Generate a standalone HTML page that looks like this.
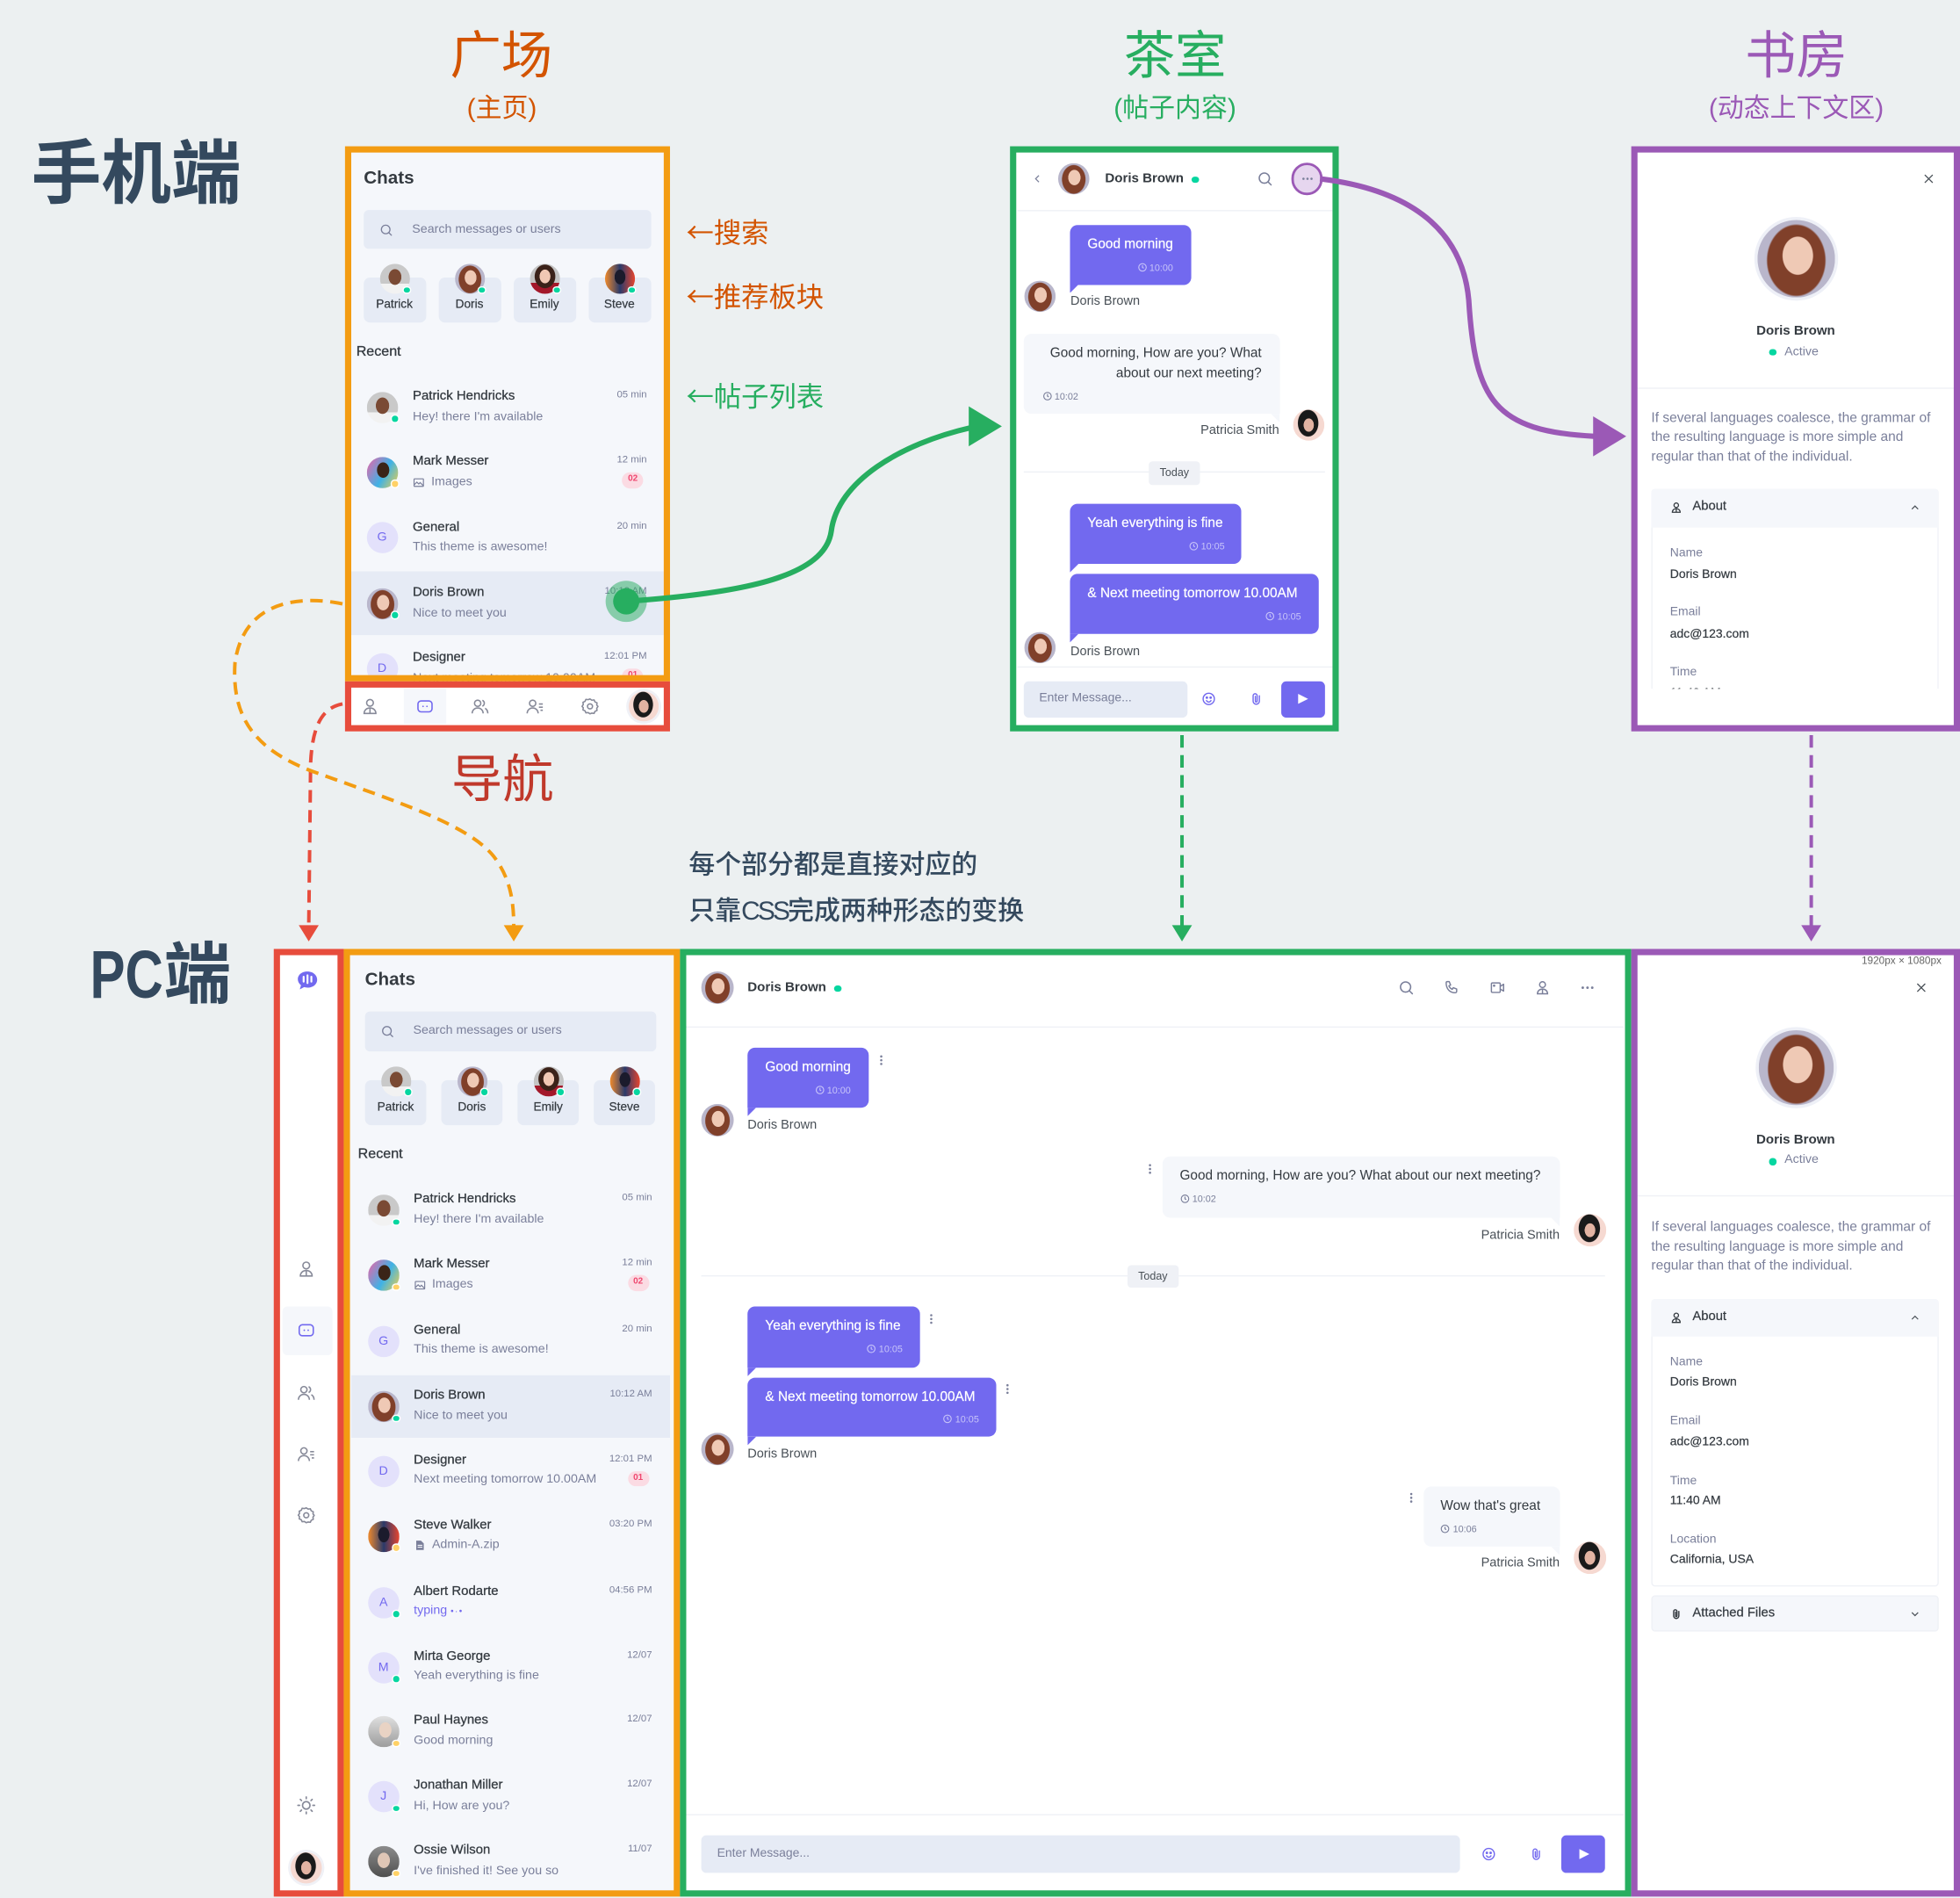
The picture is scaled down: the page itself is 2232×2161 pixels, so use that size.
<!DOCTYPE html>
<html lang="zh"><head><meta charset="utf-8"><title>diagram</title>
<style>
html,body{margin:0;padding:0}
body{width:2232px;height:2160px;overflow:hidden;position:relative;background:#ecf0f1;font-family:"Liberation Sans","Noto Sans CJK SC",sans-serif}
#s{position:absolute;left:0;top:0;width:1568px;height:1518px;transform:scale(1.42347);transform-origin:0 0}
.a{position:absolute}
.t,.tr,.tc{position:absolute;white-space:nowrap;line-height:1}
.t{transform:translateY(-50%)}
.tr{transform:translate(-100%,-50%)}
.tc{transform:translate(-50%,-50%)}
.ic{position:absolute;transform:translate(-50%,-50%);line-height:0}
.ic svg{display:block}
.av{position:absolute;border-radius:50%;transform:translate(-50%,-50%)}
.dt{position:absolute;right:-1px;bottom:0;width:4.5px;height:4.5px;border-radius:50%;border:1.2px solid #fff}
.g{background:#06d6a0}.y{background:#ffd166}
.lt{background:#e3e1fb;color:#7269ef;font-size:10px;display:flex;align-items:center;justify-content:center}
.fr{position:absolute;box-sizing:border-box;border:5.6px solid}
.cjk{font-family:"Noto Sans CJK SC",sans-serif}
.nm{font-size:10.5px;color:#343a40;-webkit-text-stroke:.2px #343a40}
.ms{font-size:10px;color:#7a7f9a}
.tm{font-size:8px;color:#7a7f9a}
.bdg{position:absolute;transform:translate(-50%,-50%);width:17px;height:12.5px;border-radius:7px;background:#fbdbe3;color:#ef476f;font-size:7px;font-weight:bold;text-align:center;line-height:12.5px}
.card{position:absolute;height:36px;width:49.5px;background:#e6ebf5;border-radius:5px}
.cl{font-size:9.6px;color:#343a40;-webkit-text-stroke:.15px #343a40}
.pb{position:absolute;background:#7269ef;border-radius:6px 6px 6px 0}
.gb{position:absolute;background:#f5f7fb;border-radius:6px 6px 0 6px}
.tlp{position:absolute;width:7px;height:7px;background:#7269ef;clip-path:polygon(0 0,100% 0,0 100%)}
.tlg{position:absolute;width:7px;height:7px;background:#f5f7fb;clip-path:polygon(0 0,100% 0,100% 100%)}
.bt{font-size:10.8px;color:#fff;-webkit-text-stroke:.15px #fff}
.btm{font-size:7.6px;color:rgba(255,255,255,.6)}
.gt{font-size:10.8px;color:#343a40}
.gtm{font-size:7.6px;color:#7a7f9a}
.sn{font-size:10.2px;color:#495057}
.ck{width:8px;height:8px;display:inline-block;vertical-align:-1.3px;margin-right:2px}
.hl{position:absolute;height:1px;background:#eff1f6}
.pl1{font-size:10.9px;color:#7a7f9a}
.lb{font-size:9.8px;color:#7a7f9a}
.vl{font-size:9.8px;color:#343a40;-webkit-text-stroke:.15px #343a40}
.hd{font-size:10.6px;font-weight:bold;color:#343a40}
.pd{background:radial-gradient(ellipse 24% 30% at 52% 46%,#efc9b5 0 80%,transparent 84%),radial-gradient(ellipse 46% 56% at 50% 52%,#80402a 0 80%,transparent 84%),#b9b6cb}
.pp{background:radial-gradient(ellipse 26% 32% at 50% 44%,#7a4a34 0 80%,transparent 84%),linear-gradient(#c9c9c9 0 66%,#f2f2f2 66%)}
.pe{background:radial-gradient(ellipse 22% 28% at 50% 42%,#f1c8b4 0 80%,transparent 84%),radial-gradient(ellipse 42% 48% at 50% 42%,#3b2219 0 80%,transparent 84%),linear-gradient(#c4c4c4 0 64%,#a3182a 64%)}
.ps{background:radial-gradient(ellipse 22% 30% at 50% 44%,#1b1b2c 0 80%,transparent 84%),linear-gradient(90deg,#f08a2c,#2a3a6a 50%,#e8452e)}
.pm{background:radial-gradient(ellipse 24% 30% at 52% 42%,#3a2418 0 80%,transparent 84%),linear-gradient(120deg,#f062a6,#3fb2e6 55%,#f2d048)}
.pt{background:radial-gradient(ellipse 20% 26% at 50% 50%,#e2b3a2 0 80%,transparent 84%),radial-gradient(ellipse 40% 52% at 48% 44%,#1a1a1a 0 80%,transparent 84%),#f6d9d1}
.pl{background:radial-gradient(ellipse 24% 30% at 55% 45%,#e9d3c4 0 80%,transparent 84%),linear-gradient(#e0e0e0,#9c9c9c)}
.po{background:radial-gradient(ellipse 24% 30% at 50% 46%,#dfc6b6 0 80%,transparent 84%),linear-gradient(#8c8c8c,#4f4f4f)}
</style></head>
<body>
<div id="s">

<!-- ============ TITLES ============ -->
<div class="t" style="left:25px;top:139px;font-size:56px;font-weight:bold;color:#34495e">手机端</div>
<div class="t" style="left:72px;top:780px;font-size:54px;font-weight:bold;color:#34495e"><span style="display:inline-block;transform:scaleX(.78);transform-origin:0 50%;margin-right:-16px">PC</span>端</div>

<div class="tc" style="left:401px;top:45px;font-size:41px;color:#d35400">广场</div>
<div class="tc" style="left:401.5px;top:86.5px;font-size:21px;color:#d35400">(主页)</div>
<div class="tc" style="left:940px;top:45px;font-size:41px;color:#27ae60">茶室</div>
<div class="tc" style="left:940px;top:86.5px;font-size:21px;color:#27ae60">(帖子内容)</div>
<div class="tc" style="left:1437px;top:45px;font-size:41px;color:#9b59b6">书房</div>
<div class="tc" style="left:1437px;top:86.5px;font-size:21px;color:#9b59b6">(动态上下文区)</div>

<div class="t" style="left:549px;top:186px;font-size:22px;color:#d35400"><span class="cjk">←</span>搜索</div>
<div class="t" style="left:549px;top:237px;font-size:22px;color:#d35400"><span class="cjk">←</span>推荐板块</div>
<div class="t" style="left:549px;top:317px;font-size:22px;color:#27ae60"><span class="cjk">←</span>帖子列表</div>
<div class="tc" style="left:402px;top:623.5px;font-size:41px;color:#c0392b">导航</div>

<div class="t" style="left:551px;top:692px;font-size:21px;font-weight:500;color:#34495e">每个部分都是直接对应的</div>
<div class="t" style="left:551px;top:729px;font-size:21px;font-weight:500;color:#34495e">只靠<span style="letter-spacing:-2px">CSS</span>完成两种形态的变换</div>

<!-- ============ MOBILE LIST ============ -->
<div class="a" style="left:275.5px;top:117px;width:260.5px;height:428px;background:#f5f7fb"></div>
<div class="t" style="left:291px;top:142.5px;font-size:14.5px;font-weight:bold;color:#343a40">Chats</div>
<div class="a" style="left:291px;top:168px;width:229.5px;height:31px;background:#e6ebf5;border-radius:4px"></div>
<div class="ic" style="left:308.5px;top:183.5px;color:#7a7f9a"><svg width="11" height="11" viewBox="0 0 24 24" fill="none" stroke="currentColor" stroke-width="2"><circle cx="11" cy="11" r="7.5"/><path d="M16.5 16.5L21 21" stroke-linecap="round"/></svg></div>
<div class="t" style="left:329.7px;top:183.5px;font-size:10px;color:#7a7f9a">Search messages or users</div>

<div class="card" style="left:291px;top:222px"></div>
<div class="card" style="left:351px;top:222px"></div>
<div class="card" style="left:411px;top:222px"></div>
<div class="card" style="left:471px;top:222px"></div>
<div class="av pp" style="left:315.5px;top:223px;width:24px;height:24px"><i class="dt g"></i></div>
<div class="av pd" style="left:375.5px;top:223px;width:24px;height:24px"><i class="dt g"></i></div>
<div class="av pe" style="left:435.5px;top:223px;width:24px;height:24px"><i class="dt g"></i></div>
<div class="av ps" style="left:495.5px;top:223px;width:24px;height:24px"><i class="dt g"></i></div>
<div class="tc cl" style="left:315.5px;top:244px">Patrick</div>
<div class="tc cl" style="left:375.5px;top:244px">Doris</div>
<div class="tc cl" style="left:435.5px;top:244px">Emily</div>
<div class="tc cl" style="left:495.5px;top:244px">Steve</div>
<div class="t" style="left:285px;top:282px;font-size:11.3px;color:#343a40;-webkit-text-stroke:.2px #343a40">Recent</div>

<div class="a" style="left:281px;top:457px;width:250px;height:51px;background:#e6ebf5"></div>

<div class="av pp" style="left:305.6px;top:325.7px;width:25px;height:25px"><i class="dt g"></i></div>
<div class="t nm" style="left:330.2px;top:317px">Patrick Hendricks</div>
<div class="t ms" style="left:330.2px;top:333.7px">Hey! there I'm available</div>
<div class="tr tm" style="left:517.5px;top:316px">05 min</div>

<div class="av pm" style="left:305.6px;top:377.9px;width:25px;height:25px"><i class="dt y"></i></div>
<div class="t nm" style="left:330.2px;top:369.2px">Mark Messer</div>
<div class="ic" style="left:334.5px;top:386px;color:#7a7f9a"><svg width="9" height="9" viewBox="0 0 24 24" fill="none" stroke="currentColor" stroke-width="2.2"><rect x="2" y="4" width="20" height="16" rx="1"/><path d="M2 17l6-6 4 4 3-3 7 7"/></svg></div>
<div class="t ms" style="left:345px;top:386px">Images</div>
<div class="tr tm" style="left:517.5px;top:368.2px">12 min</div>
<div class="bdg" style="left:506.3px;top:384.4px">02</div>

<div class="av lt" style="left:305.6px;top:430.3px;width:25px;height:25px">G</div>
<div class="t nm" style="left:330.2px;top:421.6px">General</div>
<div class="t ms" style="left:330.2px;top:438.3px">This theme is awesome!</div>
<div class="tr tm" style="left:517.5px;top:420.6px">20 min</div>

<div class="av pd" style="left:305.6px;top:482.7px;width:25px;height:25px"><i class="dt g"></i></div>
<div class="t nm" style="left:330.2px;top:474px">Doris Brown</div>
<div class="t ms" style="left:330.2px;top:490.7px">Nice to meet you</div>
<div class="tr tm" style="left:517.5px;top:473px">10:12 AM</div>

<div class="av lt" style="left:305.6px;top:534.5px;width:25px;height:25px">D</div>
<div class="t nm" style="left:330.2px;top:525.8px">Designer</div>
<div class="t ms" style="left:330.2px;top:542.5px">Next meeting tomorrow 10.00AM</div>
<div class="tr tm" style="left:517.5px;top:524.8px">12:01 PM</div>
<div class="bdg" style="left:506.3px;top:541px">01</div>

<!-- ============ MOBILE NAV ============ -->
<div class="a" style="left:275.5px;top:545px;width:260.5px;height:40px;background:#fff"></div>
<div class="a" style="left:323px;top:550.6px;width:34px;height:28.8px;background:#f5f7fb"></div>
<div class="ic" style="left:296px;top:565px;color:#878a99"><svg width="15" height="15" viewBox="0 0 24 24" fill="none" stroke="currentColor" stroke-width="1.8"><circle cx="12" cy="7.5" r="4.3"/><path d="M4.5 21c0-4.3 3.4-7 7.5-7s7.5 2.7 7.5 7z"/><path d="M12 14.5V21"/></svg></div>
<div class="ic" style="left:340px;top:565px;color:#7269ef"><svg width="15" height="15" viewBox="0 0 24 24" fill="none" stroke="currentColor" stroke-width="1.8"><rect x="3" y="5" width="18" height="14" rx="4"/><circle cx="9.5" cy="12" r="1" fill="currentColor" stroke="none"/><circle cx="14.5" cy="12" r="1" fill="currentColor" stroke="none"/></svg></div>
<div class="ic" style="left:384px;top:565px;color:#878a99"><svg width="15" height="15" viewBox="0 0 24 24" fill="none" stroke="currentColor" stroke-width="1.8"><circle cx="9" cy="8" r="4"/><path d="M2 21c0-4 3.1-7 7-7s7 3 7 7"/><path d="M15 4.3a4 4 0 0 1 0 7.4"/><path d="M18.5 14.5c2 1.2 3.5 3.5 3.5 6.5"/></svg></div>
<div class="ic" style="left:428px;top:565px;color:#878a99"><svg width="15" height="15" viewBox="0 0 24 24" fill="none" stroke="currentColor" stroke-width="1.8"><circle cx="9" cy="8" r="4"/><path d="M2 21c0-4 3.1-7 7-7s7 3 7 7"/><path d="M17 9h5M17 13h5M19 17h3"/></svg></div>
<div class="ic" style="left:472px;top:565px;color:#878a99"><svg width="15" height="15" viewBox="0 0 24 24" fill="none" stroke="currentColor" stroke-width="1.8" stroke-linejoin="round"><path d="M12 2.5l2.4 1.6 2.8-.4 1.2 2.6 2.6 1.2-.4 2.8L22.2 12l-1.6 2.4.4 2.8-2.6 1.2-1.2 2.6-2.8-.4L12 21.5l-2.4-1.6-2.8.4-1.2-2.6-2.6-1.2.4-2.8L1.8 12l1.6-2.4-.4-2.8 2.6-1.2 1.2-2.6 2.8.4z"/><circle cx="12" cy="12" r="3.2"/></svg></div>
<div class="av pt" style="left:515px;top:565px;width:24px;height:24px;box-shadow:0 0 0 2px #f0f1f6"></div>

<!-- ============ MOBILE CHAT ============ -->
<div class="a" style="left:808px;top:117px;width:263.3px;height:468px;background:#fff"></div>
<div class="ic" style="left:830px;top:143px;color:#7a7f9a"><svg width="9" height="9" viewBox="0 0 24 24" fill="none" stroke="currentColor" stroke-width="2.4"><path d="M15 5l-7 7 7 7"/></svg></div>
<div class="av pd" style="left:859.4px;top:143px;width:25px;height:25px"></div>
<div class="t hd" style="left:884px;top:143px">Doris Brown</div>
<div class="av g" style="left:956px;top:143.5px;width:5.5px;height:5.5px"></div>
<div class="ic" style="left:1012.3px;top:143px;color:#7a7f9a"><svg width="13" height="13" viewBox="0 0 24 24" fill="none" stroke="currentColor" stroke-width="2"><circle cx="11" cy="11" r="7.5"/><path d="M16.5 16.5L21 21" stroke-linecap="round"/></svg></div>
<div class="av" style="left:1045.6px;top:143px;width:25.8px;height:25.8px;box-sizing:border-box;border:2.6px solid #9b59b6;background:#e6d6ef"></div>
<div class="ic" style="left:1045.6px;top:143px;color:#7a7f9a"><svg width="11" height="11" viewBox="0 0 24 24" fill="currentColor"><circle cx="5" cy="12" r="2"/><circle cx="12" cy="12" r="2"/><circle cx="19" cy="12" r="2"/></svg></div>
<div class="hl" style="left:813.6px;top:168px;width:252px"></div>

<div class="pb" style="left:856px;top:180px;width:96.6px;height:47.6px"></div>
<div class="tlp" style="left:856px;top:227.4px"></div>
<div class="t bt" style="left:870px;top:196px">Good morning</div>
<div class="tr btm" style="left:938.5px;top:214px"><svg class="ck" viewBox="0 0 24 24" fill="none" stroke="currentColor" stroke-width="2.4"><circle cx="12" cy="12" r="9"/><path d="M12 7v5l3 2"/></svg>10:00</div>
<div class="av pd" style="left:831.8px;top:237.3px;width:25px;height:25px"></div>
<div class="t sn" style="left:856.4px;top:242.4px">Doris Brown</div>

<div class="gb" style="left:819px;top:267px;width:204.6px;height:64px"></div>
<div class="tlg" style="left:1016.6px;top:330.8px"></div>
<div class="tr gt" style="left:1009.3px;top:283px">Good morning, How are you? What</div>
<div class="tr gt" style="left:1009.3px;top:299px">about our next meeting?</div>
<div class="t gtm" style="left:833.6px;top:316.5px"><svg class="ck" viewBox="0 0 24 24" fill="none" stroke="currentColor" stroke-width="2.4"><circle cx="12" cy="12" r="9"/><path d="M12 7v5l3 2"/></svg>10:02</div>
<div class="av pt" style="left:1047.2px;top:340.3px;width:25px;height:25px"></div>
<div class="tr sn" style="left:1023.3px;top:345.4px">Patricia Smith</div>

<div class="hl" style="left:819px;top:377px;width:241px"></div>
<div class="a" style="left:919px;top:369px;width:41px;height:18.5px;background:#eff1f6;border-radius:3px"></div>
<div class="tc" style="left:939.5px;top:378.3px;font-size:8.8px;color:#495057">Today</div>

<div class="pb" style="left:856px;top:403px;width:137px;height:48px"></div>
<div class="tlp" style="left:856px;top:450.8px"></div>
<div class="t bt" style="left:870px;top:419.2px">Yeah everything is fine</div>
<div class="tr btm" style="left:979.8px;top:436.8px"><svg class="ck" viewBox="0 0 24 24" fill="none" stroke="currentColor" stroke-width="2.4"><circle cx="12" cy="12" r="9"/><path d="M12 7v5l3 2"/></svg>10:05</div>
<div class="pb" style="left:856px;top:459px;width:199px;height:48px"></div>
<div class="tlp" style="left:856px;top:506.8px"></div>
<div class="t bt" style="left:870px;top:475px">&amp; Next meeting tomorrow 10.00AM</div>
<div class="tr btm" style="left:1040.9px;top:493px"><svg class="ck" viewBox="0 0 24 24" fill="none" stroke="currentColor" stroke-width="2.4"><circle cx="12" cy="12" r="9"/><path d="M12 7v5l3 2"/></svg>10:05</div>
<div class="av pd" style="left:831.8px;top:517.6px;width:25px;height:25px"></div>
<div class="t sn" style="left:856.4px;top:522.2px">Doris Brown</div>

<div class="hl" style="left:813.6px;top:532.8px;width:252px"></div>
<div class="a" style="left:819px;top:544.5px;width:130.6px;height:29.5px;background:#e6ebf5;border-radius:4px"></div>
<div class="t" style="left:831.3px;top:559.3px;font-size:9.8px;color:#7a7f9a">Enter Message...</div>
<div class="ic" style="left:967.4px;top:559.3px;color:#7269ef"><svg width="12" height="12" viewBox="0 0 24 24" fill="none" stroke="currentColor" stroke-width="2"><circle cx="12" cy="12" r="9"/><path d="M8 14c1 2 2.5 3 4 3s3-1 4-3"/><circle cx="9" cy="10" r="1" fill="currentColor"/><circle cx="15" cy="10" r="1" fill="currentColor"/></svg></div>
<div class="ic" style="left:1004.6px;top:559.3px;color:#7269ef"><svg width="12" height="12" viewBox="0 0 24 24" fill="none" stroke="currentColor" stroke-width="2" stroke-linecap="round"><path d="M17 7v8.5a5 5 0 0 1-10 0V7a3.2 3.2 0 0 1 6.4 0v8.5a1.4 1.4 0 0 1-2.8 0V8"/></svg></div>
<div class="a" style="left:1025px;top:544.5px;width:34.6px;height:29.5px;background:#7269ef;border-radius:4px"></div>
<div class="ic" style="left:1042.3px;top:559.3px"><svg width="12" height="12" viewBox="0 0 24 24"><path d="M5 4l16 8-16 8z" fill="#fff"/></svg></div>

<!-- ============ MOBILE PROFILE ============ -->
<div class="a" style="left:1304.6px;top:117px;width:263.4px;height:468px;background:#fff"></div>
<div class="ic" style="left:1542.5px;top:143px;color:#495057"><svg width="10" height="10" viewBox="0 0 24 24" fill="none" stroke="currentColor" stroke-width="2.2" stroke-linecap="round"><path d="M5 5l14 14M19 5L5 19"/></svg></div>
<div class="av pd" style="left:1436.6px;top:206.6px;width:62px;height:62px;box-shadow:0 0 0 2.5px #eef0f7"></div>
<div class="tc hd" style="left:1436.6px;top:264.7px">Doris Brown</div>
<div class="av g" style="left:1418.4px;top:281.8px;width:5.5px;height:5.5px"></div>
<div class="t" style="left:1427.6px;top:281.5px;font-size:10px;color:#7a7f9a">Active</div>
<div class="hl" style="left:1310px;top:309.8px;width:252.5px"></div>
<div class="t pl1" style="left:1321px;top:334.8px">If several languages coalesce, the grammar of</div>
<div class="t pl1" style="left:1321px;top:350.3px">the resulting language is more simple and</div>
<div class="t pl1" style="left:1321px;top:365.9px">regular than that of the individual.</div>
<div class="a" style="left:1321px;top:391.2px;width:229.6px;height:159.8px;box-sizing:border-box;border:1px solid #eff1f6;border-bottom:none;border-radius:3px 3px 0 0;background:#fff"></div>
<div class="a" style="left:1321px;top:391.2px;width:229.6px;height:30.4px;background:#f5f7fb;border-radius:3px 3px 0 0"></div>
<div class="ic" style="left:1340.5px;top:406.4px;color:#343a40"><svg width="10" height="10" viewBox="0 0 24 24" fill="none" stroke="currentColor" stroke-width="2.2"><circle cx="12" cy="7.5" r="4.3"/><path d="M4.5 21c0-4.3 3.4-7 7.5-7s7.5 2.7 7.5 7z"/><path d="M12 14.5V21"/></svg></div>
<div class="t vl" style="left:1354px;top:406.4px;font-size:10.4px">About</div>
<div class="ic" style="left:1531.5px;top:406.4px;color:#495057"><svg width="10" height="10" viewBox="0 0 24 24" fill="none" stroke="currentColor" stroke-width="2"><path d="M6 15l6-6 6 6"/></svg></div>
<div class="t lb" style="left:1336px;top:443px">Name</div>
<div class="t vl" style="left:1336px;top:459.7px">Doris Brown</div>
<div class="t lb" style="left:1336px;top:490px">Email</div>
<div class="t vl" style="left:1336px;top:507.5px">adc@123.com</div>
<div class="t lb" style="left:1336px;top:538px">Time</div>
<div class="t vl" style="left:1336px;top:554.5px">11:40 AM</div>
<div class="a" style="left:1310px;top:551px;width:252.5px;height:29px;background:#fff"></div>

<!-- ============ PC SIDEBAR ============ -->
<div class="a" style="left:219px;top:758.7px;width:56.4px;height:758.5px;background:#fff"></div>
<div class="ic" style="left:245.5px;top:784px"><svg width="19" height="17" viewBox="0 0 24 22"><path d="M12 2C6 2 2 5.5 2 10c0 2.5 1.3 4.7 3.3 6.2L4 20.5l4.5-2.3c1.1.3 2.3.5 3.5.5 6 0 10-3.7 10-8.2S18 2 12 2z" fill="#7269ef"/><path d="M8 7.5v5M12 6v8M16 7.5v5" stroke="#fff" stroke-width="2" stroke-linecap="round"/></svg></div>
<div class="a" style="left:226px;top:1045px;width:39.5px;height:39px;background:#f5f7fb;border-radius:4px"></div>
<div class="ic" style="left:245.4px;top:1015.4px;color:#878a99"><svg width="15" height="15" viewBox="0 0 24 24" fill="none" stroke="currentColor" stroke-width="1.8"><circle cx="12" cy="7.5" r="4.3"/><path d="M4.5 21c0-4.3 3.4-7 7.5-7s7.5 2.7 7.5 7z"/><path d="M12 14.5V21"/></svg></div>
<div class="ic" style="left:245.4px;top:1064.3px;color:#7269ef"><svg width="15" height="15" viewBox="0 0 24 24" fill="none" stroke="currentColor" stroke-width="1.8"><rect x="3" y="5" width="18" height="14" rx="4"/><circle cx="9.5" cy="12" r="1" fill="currentColor" stroke="none"/><circle cx="14.5" cy="12" r="1" fill="currentColor" stroke="none"/></svg></div>
<div class="ic" style="left:245.4px;top:1114px;color:#878a99"><svg width="15" height="15" viewBox="0 0 24 24" fill="none" stroke="currentColor" stroke-width="1.8"><circle cx="9" cy="8" r="4"/><path d="M2 21c0-4 3.1-7 7-7s7 3 7 7"/><path d="M15 4.3a4 4 0 0 1 0 7.4"/><path d="M18.5 14.5c2 1.2 3.5 3.5 3.5 6.5"/></svg></div>
<div class="ic" style="left:245.4px;top:1162.7px;color:#878a99"><svg width="15" height="15" viewBox="0 0 24 24" fill="none" stroke="currentColor" stroke-width="1.8"><circle cx="9" cy="8" r="4"/><path d="M2 21c0-4 3.1-7 7-7s7 3 7 7"/><path d="M17 9h5M17 13h5M19 17h3"/></svg></div>
<div class="ic" style="left:245.4px;top:1211.7px;color:#878a99"><svg width="15" height="15" viewBox="0 0 24 24" fill="none" stroke="currentColor" stroke-width="1.8" stroke-linejoin="round"><path d="M12 2.5l2.4 1.6 2.8-.4 1.2 2.6 2.6 1.2-.4 2.8L22.2 12l-1.6 2.4.4 2.8-2.6 1.2-1.2 2.6-2.8-.4L12 21.5l-2.4-1.6-2.8.4-1.2-2.6-2.6-1.2.4-2.8L1.8 12l1.6-2.4-.4-2.8 2.6-1.2 1.2-2.6 2.8.4z"/><circle cx="12" cy="12" r="3.2"/></svg></div>
<div class="ic" style="left:245.4px;top:1444px;color:#878a99"><svg width="16" height="16" viewBox="0 0 24 24" fill="none" stroke="currentColor" stroke-width="1.8" stroke-linecap="round"><circle cx="12" cy="12" r="4.5"/><path d="M12 2v2M12 20v2M2 12h2M20 12h2M4.9 4.9l1.4 1.4M17.7 17.7l1.4 1.4M4.9 19.1l1.4-1.4M17.7 6.3l1.4-1.4"/></svg></div>
<div class="av pt" style="left:245.4px;top:1494px;width:25px;height:25px;box-shadow:0 0 0 2px #f0f1f6"></div>

<!-- ============ PC LIST ============ -->
<div class="a" style="left:275.4px;top:758.7px;width:268.3px;height:758.5px;background:#f5f7fb"></div>
<div class="t" style="left:292px;top:784.4px;font-size:14.5px;font-weight:bold;color:#343a40">Chats</div>
<div class="a" style="left:291.6px;top:809px;width:233.2px;height:32px;background:#e6ebf5;border-radius:4px"></div>
<div class="ic" style="left:309.5px;top:825px;color:#7a7f9a"><svg width="11" height="11" viewBox="0 0 24 24" fill="none" stroke="currentColor" stroke-width="2"><circle cx="11" cy="11" r="7.5"/><path d="M16.5 16.5L21 21" stroke-linecap="round"/></svg></div>
<div class="t" style="left:330.5px;top:825px;font-size:10px;color:#7a7f9a">Search messages or users</div>

<div class="card" style="left:291.6px;top:864px;width:49.8px"></div>
<div class="card" style="left:352.6px;top:864px;width:49.8px"></div>
<div class="card" style="left:413.6px;top:864px;width:49.8px"></div>
<div class="card" style="left:474.6px;top:864px;width:49.8px"></div>
<div class="av pp" style="left:316.5px;top:864.5px;width:24px;height:24px"><i class="dt g"></i></div>
<div class="av pd" style="left:377.5px;top:864.5px;width:24px;height:24px"><i class="dt g"></i></div>
<div class="av pe" style="left:438.5px;top:864.5px;width:24px;height:24px"><i class="dt g"></i></div>
<div class="av ps" style="left:499.5px;top:864.5px;width:24px;height:24px"><i class="dt g"></i></div>
<div class="tc cl" style="left:316.5px;top:886px">Patrick</div>
<div class="tc cl" style="left:377.5px;top:886px">Doris</div>
<div class="tc cl" style="left:438.5px;top:886px">Emily</div>
<div class="tc cl" style="left:499.5px;top:886px">Steve</div>
<div class="t" style="left:286.4px;top:923.6px;font-size:11.3px;color:#343a40;-webkit-text-stroke:.2px #343a40">Recent</div>

<div class="a" style="left:281px;top:1099.5px;width:255px;height:50.2px;background:#e6ebf5"></div>

<div class="av pp" style="left:306.8px;top:968.2px;width:25px;height:25px"><i class="dt g"></i></div>
<div class="t nm" style="left:331px;top:959.2px">Patrick Hendricks</div>
<div class="t ms" style="left:331px;top:975.7px">Hey! there I'm available</div>
<div class="tr tm" style="left:521.7px;top:958.2px">05 min</div>

<div class="av pm" style="left:306.8px;top:1020px;width:25px;height:25px"><i class="dt y"></i></div>
<div class="t nm" style="left:331px;top:1011px">Mark Messer</div>
<div class="ic" style="left:335.5px;top:1027.5px;color:#7a7f9a"><svg width="9" height="9" viewBox="0 0 24 24" fill="none" stroke="currentColor" stroke-width="2.2"><rect x="2" y="4" width="20" height="16" rx="1"/><path d="M2 17l6-6 4 4 3-3 7 7"/></svg></div>
<div class="t ms" style="left:345.6px;top:1027.5px">Images</div>
<div class="tr tm" style="left:521.7px;top:1010px">12 min</div>
<div class="bdg" style="left:510.5px;top:1026px">02</div>

<div class="av lt" style="left:306.8px;top:1072.7px;width:25px;height:25px">G</div>
<div class="t nm" style="left:331px;top:1063.7px">General</div>
<div class="t ms" style="left:331px;top:1080.2px">This theme is awesome!</div>
<div class="tr tm" style="left:521.7px;top:1062.7px">20 min</div>

<div class="av pd" style="left:306.8px;top:1125px;width:25px;height:25px"><i class="dt g"></i></div>
<div class="t nm" style="left:331px;top:1116px">Doris Brown</div>
<div class="t ms" style="left:331px;top:1132.5px">Nice to meet you</div>
<div class="tr tm" style="left:521.7px;top:1115px">10:12 AM</div>

<div class="av lt" style="left:306.8px;top:1176.6px;width:25px;height:25px">D</div>
<div class="t nm" style="left:331px;top:1167.6px">Designer</div>
<div class="t ms" style="left:331px;top:1184.1px">Next meeting tomorrow 10.00AM</div>
<div class="tr tm" style="left:521.7px;top:1166.6px">12:01 PM</div>
<div class="bdg" style="left:510.5px;top:1182.6px">01</div>

<div class="av ps" style="left:306.8px;top:1228.7px;width:25px;height:25px"><i class="dt y"></i></div>
<div class="t nm" style="left:331px;top:1219.7px">Steve Walker</div>
<div class="ic" style="left:335.5px;top:1236.2px;color:#7a7f9a"><svg width="9" height="9" viewBox="0 0 24 24" fill="currentColor"><path d="M4 2h10l6 6v14H4z"/><path d="M7 12h10M7 16h10" stroke="#f5f7fb" stroke-width="2"/></svg></div>
<div class="t ms" style="left:345.6px;top:1236.2px">Admin-A.zip</div>
<div class="tr tm" style="left:521.7px;top:1218.7px">03:20 PM</div>

<div class="av lt" style="left:306.8px;top:1281.7px;width:25px;height:25px">A<i class="dt g"></i></div>
<div class="t nm" style="left:331px;top:1272.7px">Albert Rodarte</div>
<div class="t ms" style="left:331px;top:1289.2px;color:#7269ef">typing <span style="font-size:7px;letter-spacing:1px">•·•</span></div>
<div class="tr tm" style="left:521.7px;top:1271.7px">04:56 PM</div>

<div class="av lt" style="left:306.8px;top:1333.5px;width:25px;height:25px">M<i class="dt g"></i></div>
<div class="t nm" style="left:331px;top:1324.5px">Mirta George</div>
<div class="t ms" style="left:331px;top:1341px">Yeah everything is fine</div>
<div class="tr tm" style="left:521.7px;top:1323.5px">12/07</div>

<div class="av pl" style="left:306.8px;top:1385.3px;width:25px;height:25px"><i class="dt y"></i></div>
<div class="t nm" style="left:331px;top:1376.3px">Paul Haynes</div>
<div class="t ms" style="left:331px;top:1392.8px">Good morning</div>
<div class="tr tm" style="left:521.7px;top:1375.3px">12/07</div>

<div class="av lt" style="left:306.8px;top:1437px;width:25px;height:25px">J<i class="dt g"></i></div>
<div class="t nm" style="left:331px;top:1428px">Jonathan Miller</div>
<div class="t ms" style="left:331px;top:1444.5px">Hi, How are you?</div>
<div class="tr tm" style="left:521.7px;top:1427px">12/07</div>

<div class="av po" style="left:306.8px;top:1489.3px;width:25px;height:25px"><i class="dt y"></i></div>
<div class="t nm" style="left:331px;top:1480.3px">Ossie Wilson</div>
<div class="t ms" style="left:331px;top:1496.8px">I've finished it! See you so</div>
<div class="tr tm" style="left:521.7px;top:1479.3px">11/07</div>

<!-- ============ PC CHAT ============ -->
<div class="a" style="left:543.7px;top:758.7px;width:760.9px;height:758.5px;background:#fff"></div>
<div class="av pd" style="left:574.3px;top:789.5px;width:26px;height:26px"></div>
<div class="t hd" style="left:598px;top:789.5px">Doris Brown</div>
<div class="av g" style="left:670px;top:790.5px;width:5.5px;height:5.5px"></div>
<div class="ic" style="left:1125px;top:790px;color:#7a7f9a"><svg width="13" height="13" viewBox="0 0 24 24" fill="none" stroke="currentColor" stroke-width="2"><circle cx="11" cy="11" r="7.5"/><path d="M16.5 16.5L21 21" stroke-linecap="round"/></svg></div>
<div class="ic" style="left:1161.2px;top:790px;color:#7a7f9a"><svg width="13" height="13" viewBox="0 0 24 24" fill="none" stroke="currentColor" stroke-width="1.9" stroke-linejoin="round"><path d="M6 3h3l2 5-2.5 1.5c1 2.2 2.8 4 5 5L15 12l5 2v3.5c0 1-1 2-2 2C10 19.5 4.5 14 4.5 5c0-1 .5-2 1.5-2z"/></svg></div>
<div class="ic" style="left:1197.8px;top:790px;color:#7a7f9a"><svg width="13" height="13" viewBox="0 0 24 24" fill="none" stroke="currentColor" stroke-width="1.9" stroke-linejoin="round"><rect x="3" y="5" width="13" height="14" rx="1.5"/><path d="M16 10l5-3v10l-5-3"/><circle cx="7" cy="9" r=".8" fill="currentColor"/></svg></div>
<div class="ic" style="left:1234px;top:790px;color:#7a7f9a"><svg width="13" height="13" viewBox="0 0 24 24" fill="none" stroke="currentColor" stroke-width="1.9"><circle cx="12" cy="7.5" r="4.3"/><path d="M4.5 21c0-4.3 3.4-7 7.5-7s7.5 2.7 7.5 7z"/><path d="M12 14.5V21"/></svg></div>
<div class="ic" style="left:1270px;top:790px;color:#7a7f9a"><svg width="13" height="13" viewBox="0 0 24 24" fill="currentColor"><circle cx="5" cy="12" r="1.9"/><circle cx="12" cy="12" r="1.9"/><circle cx="19" cy="12" r="1.9"/></svg></div>
<div class="hl" style="left:549.3px;top:820.5px;width:750px"></div>

<div class="pb" style="left:598px;top:838px;width:97px;height:48px"></div>
<div class="tlp" style="left:598px;top:885.8px"></div>
<div class="t bt" style="left:612.2px;top:854px">Good morning</div>
<div class="tr btm" style="left:680.6px;top:871.8px"><svg class="ck" viewBox="0 0 24 24" fill="none" stroke="currentColor" stroke-width="2.4"><circle cx="12" cy="12" r="9"/><path d="M12 7v5l3 2"/></svg>10:00</div>
<div class="ic" style="left:704.5px;top:847.6px;color:#7a7f9a"><svg width="9" height="9" viewBox="0 0 24 24" fill="currentColor"><circle cx="12" cy="4" r="2.4"/><circle cx="12" cy="12" r="2.4"/><circle cx="12" cy="20" r="2.4"/></svg></div>
<div class="av pd" style="left:573.7px;top:895.5px;width:26px;height:26px"></div>
<div class="t sn" style="left:598px;top:900.9px">Doris Brown</div>

<div class="gb" style="left:930px;top:925px;width:317.7px;height:49px"></div>
<div class="tlg" style="left:1240.7px;top:973.8px"></div>
<div class="t gt" style="left:943.8px;top:941.4px">Good morning, How are you? What about our next meeting?</div>
<div class="t gtm" style="left:943.8px;top:959.2px"><svg class="ck" viewBox="0 0 24 24" fill="none" stroke="currentColor" stroke-width="2.4"><circle cx="12" cy="12" r="9"/><path d="M12 7v5l3 2"/></svg>10:02</div>
<div class="ic" style="left:920.3px;top:935px;color:#7a7f9a"><svg width="9" height="9" viewBox="0 0 24 24" fill="currentColor"><circle cx="12" cy="4" r="2.4"/><circle cx="12" cy="12" r="2.4"/><circle cx="12" cy="20" r="2.4"/></svg></div>
<div class="av pt" style="left:1271.6px;top:983.5px;width:26px;height:26px"></div>
<div class="tr sn" style="left:1247.7px;top:988.8px">Patricia Smith</div>

<div class="hl" style="left:561.3px;top:1020px;width:723px"></div>
<div class="a" style="left:901.8px;top:1011.6px;width:41px;height:18.6px;background:#eff1f6;border-radius:3px"></div>
<div class="tc" style="left:922.3px;top:1021px;font-size:8.8px;color:#495057">Today</div>

<div class="pb" style="left:598px;top:1045px;width:137.6px;height:49px"></div>
<div class="tlp" style="left:598px;top:1093.8px"></div>
<div class="t bt" style="left:612.2px;top:1061.4px">Yeah everything is fine</div>
<div class="tr btm" style="left:722.1px;top:1079.4px"><svg class="ck" viewBox="0 0 24 24" fill="none" stroke="currentColor" stroke-width="2.4"><circle cx="12" cy="12" r="9"/><path d="M12 7v5l3 2"/></svg>10:05</div>
<div class="ic" style="left:745px;top:1055px;color:#7a7f9a"><svg width="9" height="9" viewBox="0 0 24 24" fill="currentColor"><circle cx="12" cy="4" r="2.4"/><circle cx="12" cy="12" r="2.4"/><circle cx="12" cy="20" r="2.4"/></svg></div>
<div class="pb" style="left:598px;top:1101.6px;width:199px;height:47.6px"></div>
<div class="tlp" style="left:598px;top:1149px"></div>
<div class="t bt" style="left:612.2px;top:1117.6px">&amp; Next meeting tomorrow 10.00AM</div>
<div class="tr btm" style="left:783.2px;top:1135px"><svg class="ck" viewBox="0 0 24 24" fill="none" stroke="currentColor" stroke-width="2.4"><circle cx="12" cy="12" r="9"/><path d="M12 7v5l3 2"/></svg>10:05</div>
<div class="ic" style="left:806.1px;top:1111.2px;color:#7a7f9a"><svg width="9" height="9" viewBox="0 0 24 24" fill="currentColor"><circle cx="12" cy="4" r="2.4"/><circle cx="12" cy="12" r="2.4"/><circle cx="12" cy="20" r="2.4"/></svg></div>
<div class="av pd" style="left:573.7px;top:1159px;width:26px;height:26px"></div>
<div class="t sn" style="left:598px;top:1164.3px">Doris Brown</div>

<div class="gb" style="left:1139px;top:1188.7px;width:108.7px;height:48.3px"></div>
<div class="tlg" style="left:1240.7px;top:1236.8px"></div>
<div class="t gt" style="left:1152.4px;top:1204.8px">Wow that's great</div>
<div class="t gtm" style="left:1152.4px;top:1222.6px"><svg class="ck" viewBox="0 0 24 24" fill="none" stroke="currentColor" stroke-width="2.4"><circle cx="12" cy="12" r="9"/><path d="M12 7v5l3 2"/></svg>10:06</div>
<div class="ic" style="left:1128.5px;top:1198.3px;color:#7a7f9a"><svg width="9" height="9" viewBox="0 0 24 24" fill="currentColor"><circle cx="12" cy="4" r="2.4"/><circle cx="12" cy="12" r="2.4"/><circle cx="12" cy="20" r="2.4"/></svg></div>
<div class="av pt" style="left:1271.6px;top:1245.8px;width:26px;height:26px"></div>
<div class="tr sn" style="left:1247.7px;top:1251.4px">Patricia Smith</div>

<div class="hl" style="left:549.3px;top:1451px;width:750px"></div>
<div class="a" style="left:561.3px;top:1468px;width:606.7px;height:30px;background:#e6ebf5;border-radius:4px"></div>
<div class="t" style="left:573.7px;top:1483.2px;font-size:9.8px;color:#7a7f9a">Enter Message...</div>
<div class="ic" style="left:1191px;top:1483px;color:#7269ef"><svg width="12" height="12" viewBox="0 0 24 24" fill="none" stroke="currentColor" stroke-width="2"><circle cx="12" cy="12" r="9"/><path d="M8 14c1 2 2.5 3 4 3s3-1 4-3"/><circle cx="9" cy="10" r="1" fill="currentColor"/><circle cx="15" cy="10" r="1" fill="currentColor"/></svg></div>
<div class="ic" style="left:1228.6px;top:1483px;color:#7269ef"><svg width="12" height="12" viewBox="0 0 24 24" fill="none" stroke="currentColor" stroke-width="2" stroke-linecap="round"><path d="M17 7v8.5a5 5 0 0 1-10 0V7a3.2 3.2 0 0 1 6.4 0v8.5a1.4 1.4 0 0 1-2.8 0V8"/></svg></div>
<div class="a" style="left:1249.1px;top:1468px;width:35.1px;height:30px;background:#7269ef;border-radius:4px"></div>
<div class="ic" style="left:1266.6px;top:1483px"><svg width="12" height="12" viewBox="0 0 24 24"><path d="M5 4l16 8-16 8z" fill="#fff"/></svg></div>

<!-- ============ PC PROFILE ============ -->
<div class="a" style="left:1304.6px;top:758.7px;width:263.4px;height:758.5px;background:#fff"></div>
<div class="t" style="left:1489.3px;top:768.2px;font-size:8.3px;color:#666">1920px × 1080px</div>
<div class="ic" style="left:1537px;top:790px;color:#495057"><svg width="10" height="10" viewBox="0 0 24 24" fill="none" stroke="currentColor" stroke-width="2.2" stroke-linecap="round"><path d="M5 5l14 14M19 5L5 19"/></svg></div>
<div class="av pd" style="left:1436.5px;top:853.6px;width:60px;height:60px;box-shadow:0 0 0 2.5px #eef0f7"></div>
<div class="tc hd" style="left:1436.5px;top:911.5px">Doris Brown</div>
<div class="av g" style="left:1418.4px;top:929px;width:5.5px;height:5.5px"></div>
<div class="t" style="left:1427.6px;top:928px;font-size:10px;color:#7a7f9a">Active</div>
<div class="hl" style="left:1310px;top:956px;width:252.5px"></div>
<div class="t pl1" style="left:1321px;top:982px">If several languages coalesce, the grammar of</div>
<div class="t pl1" style="left:1321px;top:997.6px">the resulting language is more simple and</div>
<div class="t pl1" style="left:1321px;top:1013px">regular than that of the individual.</div>
<div class="a" style="left:1321px;top:1038.7px;width:229.6px;height:230.1px;box-sizing:border-box;border:1px solid #eff1f6;border-radius:3px;background:#fff"></div>
<div class="a" style="left:1321px;top:1038.7px;width:229.6px;height:29.9px;background:#f5f7fb;border-radius:3px 3px 0 0"></div>
<div class="ic" style="left:1340.5px;top:1053.6px;color:#343a40"><svg width="10" height="10" viewBox="0 0 24 24" fill="none" stroke="currentColor" stroke-width="2.2"><circle cx="12" cy="7.5" r="4.3"/><path d="M4.5 21c0-4.3 3.4-7 7.5-7s7.5 2.7 7.5 7z"/><path d="M12 14.5V21"/></svg></div>
<div class="t vl" style="left:1354px;top:1053.6px;font-size:10.4px">About</div>
<div class="ic" style="left:1531.5px;top:1053.6px;color:#495057"><svg width="10" height="10" viewBox="0 0 24 24" fill="none" stroke="currentColor" stroke-width="2"><path d="M6 15l6-6 6 6"/></svg></div>
<div class="t lb" style="left:1336px;top:1089.6px">Name</div>
<div class="t vl" style="left:1336px;top:1106.2px">Doris Brown</div>
<div class="t lb" style="left:1336px;top:1136.7px">Email</div>
<div class="t vl" style="left:1336px;top:1154px">adc@123.com</div>
<div class="t lb" style="left:1336px;top:1184.5px">Time</div>
<div class="t vl" style="left:1336px;top:1200.6px">11:40 AM</div>
<div class="t lb" style="left:1336px;top:1232px">Location</div>
<div class="t vl" style="left:1336px;top:1248.1px">California, USA</div>
<div class="a" style="left:1321px;top:1276.3px;width:229.6px;height:29px;box-sizing:border-box;border:1px solid #eff1f6;border-radius:3px;background:#f5f7fb"></div>
<div class="ic" style="left:1340.5px;top:1290.5px;color:#343a40"><svg width="10" height="10" viewBox="0 0 24 24" fill="none" stroke="currentColor" stroke-width="2.4" stroke-linecap="round"><path d="M17 7v8.5a5 5 0 0 1-10 0V7a3.2 3.2 0 0 1 6.4 0v8.5a1.4 1.4 0 0 1-2.8 0V8"/></svg></div>
<div class="t vl" style="left:1354px;top:1290.5px;font-size:10.4px">Attached Files</div>
<div class="ic" style="left:1531.5px;top:1290.5px;color:#495057"><svg width="10" height="10" viewBox="0 0 24 24" fill="none" stroke="currentColor" stroke-width="2"><path d="M6 9l6 6 6-6"/></svg></div>

<!-- ============ FRAMES ============ -->
<div class="fr" style="left:275.5px;top:117px;width:260.5px;height:428px;border-color:#f39c12"></div>
<div class="fr" style="left:275.5px;top:545px;width:260.5px;height:40px;border-color:#e74c3c"></div>
<div class="fr" style="left:808px;top:117px;width:263.3px;height:467.8px;border-color:#27ae60"></div>
<div class="fr" style="left:1304.6px;top:117px;width:263.4px;height:467.8px;border-color:#9b59b6"></div>

<div class="fr" style="left:219px;top:758.7px;width:56.4px;height:758.5px;border-color:#e74c3c"></div>
<div class="fr" style="left:275.4px;top:758.7px;width:268.3px;height:758.5px;border-color:#f39c12"></div>
<div class="fr" style="left:543.7px;top:758.7px;width:760.9px;height:758.5px;border-color:#27ae60"></div>
<div class="fr" style="left:1304.6px;top:758.7px;width:263.4px;height:758.5px;border-color:#9b59b6"></div>

<!-- ============ CONNECTORS ============ -->
<svg class="a" style="left:0;top:0" width="1568" height="1518" viewBox="0 0 1568 1518">
  <circle cx="501" cy="481" r="16.5" fill="#27ae60" fill-opacity=".5"/>
  <circle cx="501" cy="481" r="10.5" fill="#27ae60"/>
  <path d="M501 481 C600 474 660 460 665 425 C670 385 720 355 777 342" fill="none" stroke="#27ae60" stroke-width="4.3"/>
  <polygon points="775,325 801.5,341 775,357" fill="#27ae60"/>

  <path d="M1056 143 C1130 152 1170 185 1175 240 C1180 320 1195 345 1276 349" fill="none" stroke="#9b59b6" stroke-width="4.3"/>
  <polygon points="1274.5,333 1301,349 1274.5,365" fill="#9b59b6"/>

  <path d="M945.6 588 V741" stroke="#27ae60" stroke-width="2.8" stroke-dasharray="10 6" fill="none"/>
  <polygon points="937.6,740 953.6,740 945.6,753" fill="#27ae60"/>
  <path d="M1449 588 V741" stroke="#9b59b6" stroke-width="2.8" stroke-dasharray="10 6" fill="none"/>
  <polygon points="1441,740 1457,740 1449,753" fill="#9b59b6"/>

  <path d="M274 563 C258 566 250 580 248.5 610 L247 741" stroke="#e74c3c" stroke-width="2.8" stroke-dasharray="10 6" fill="none"/>
  <polygon points="239,740 255,740 247,753" fill="#e74c3c"/>

  <path d="M274 483 C240 476 195 480 188 530 C185 575 205 600 250 617 C320 642 375 660 395 685 C408 702 411 720 411 741" stroke="#f39c12" stroke-width="2.8" stroke-dasharray="10 6" fill="none"/>
  <polygon points="403,740 419,740 411,753" fill="#f39c12"/>
</svg>

</div>
</body></html>
